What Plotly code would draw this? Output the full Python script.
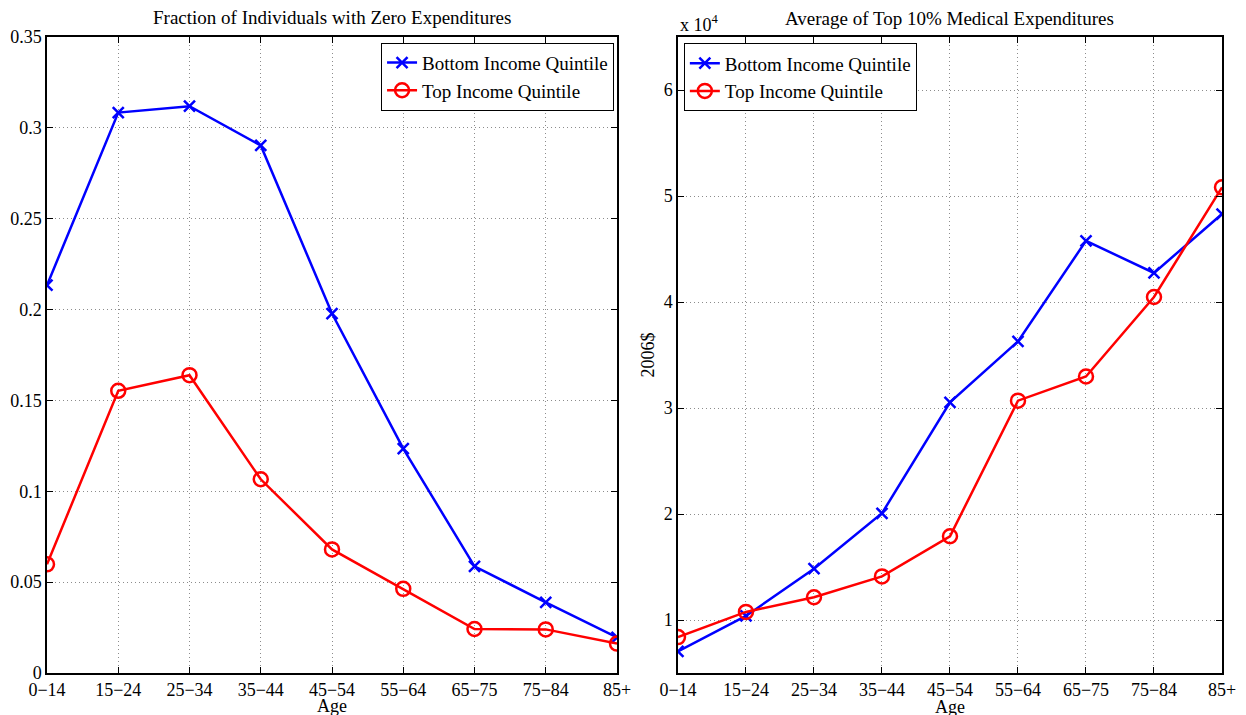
import plotly.graph_objects as go

# age groups on the horizontal axis
ages = ["0−14", "15−24", "25−34", "35−44", "45−54", "55−64", "65−75", "75−84", "85+"]

# left panel: fraction of individuals with zero medical expenditures
zero_bottom = [0.2134, 0.3084, 0.3119, 0.2903, 0.1978, 0.1235, 0.0587, 0.0389, 0.0196]
zero_top = [0.0598, 0.1553, 0.1639, 0.1066, 0.0680, 0.0463, 0.0242, 0.0240, 0.0162]

# right panel: average of top 10% medical expenditures, 2006 dollars
top10_bottom = [7030, 10380, 14840, 20070, 30540, 36280, 45770, 42740, 48300]
top10_top = [8390, 10760, 12150, 14110, 17900, 30690, 32970, 40470, 50820]

y2_ticks = [10000, 20000, 30000, 40000, 50000, 60000]
y2_labels = ["1", "2", "3", "4", "5", "6"]

FONT = "Liberation Serif, Times New Roman, serif"
BLUE = "#0000FF"
RED = "#FF0000"


def bottom_trace(y, xaxis, yaxis, legend):
    return go.Scatter(
        x=ages, y=y, name="Bottom Income Quintile", mode="lines+markers",
        xaxis=xaxis, yaxis=yaxis, legend=legend,
        line=dict(color=BLUE, width=2.5),
        marker=dict(symbol="x-thin", size=11, line=dict(color=BLUE, width=2.5)),
    )


def top_trace(y, xaxis, yaxis, legend):
    return go.Scatter(
        x=ages, y=y, name="Top Income Quintile", mode="lines+markers",
        xaxis=xaxis, yaxis=yaxis, legend=legend,
        line=dict(color=RED, width=2.5),
        marker=dict(symbol="circle-open", size=14, color=RED, line=dict(color=RED, width=2.5)),
    )


fig = go.Figure([
    bottom_trace(zero_bottom, "x", "y", "legend"),
    top_trace(zero_top, "x", "y", "legend"),
    bottom_trace(top10_bottom, "x2", "y2", "legend2"),
    top_trace(top10_top, "x2", "y2", "legend2"),
])

axis_style = dict(
    showline=True, linecolor="black", linewidth=1.5, mirror="ticks",
    ticks="inside", ticklen=6, tickcolor="black", automargin=False,
    showgrid=True, gridcolor="#8c8c8c", griddash="1px,3px", gridwidth=1,
    zeroline=False, tickfont=dict(family=FONT, size=18, color="black"),
)
legend_style = dict(
    yanchor="top", bordercolor="black", borderwidth=1, bgcolor="white",
    font=dict(family=FONT, size=19), tracegroupgap=0, itemwidth=30,
)


def label(text, x, y, yshift, size=19, **kw):
    return dict(text=text, x=x, y=y, xref="paper", yref="paper", yshift=yshift,
                showarrow=False, font=dict(family=FONT, size=size), **kw)


# the page body adds an 8px offset, so the margins are shifted to compensate
fig.update_layout(
    width=1246, height=715,
    margin=dict(l=39, r=32, t=29, b=50),
    paper_bgcolor="white", plot_bgcolor="white",
    font=dict(family=FONT, color="black"),
    xaxis=dict(domain=[0, 0.4851], type="category", range=[0, 8], **axis_style),
    yaxis=dict(range=[0, 0.35], dtick=0.05, anchor="x", **axis_style),
    xaxis2=dict(domain=[0.537, 1], type="category", range=[0, 8], anchor="y2", **axis_style),
    yaxis2=dict(range=[5000, 65000], tickvals=y2_ticks, ticktext=y2_labels, anchor="x2",
                title=dict(text="2006$", font=dict(size=18), standoff=4), **axis_style),
    legend=dict(x=0.4826, y=0.991, xanchor="right", **legend_style),
    legend2=dict(x=0.542, y=0.99, xanchor="left", **legend_style),
    annotations=[
        label("Fraction of Individuals with Zero Expenditures", 0.2425, 1.0, 20,
              xanchor="center", yanchor="middle"),
        label("Average of Top 10% Medical Expenditures", 0.7685, 1.0, 19,
              xanchor="center", yanchor="middle"),
        label("x 10<sup>4</sup>", 0.537, 1.0, 0, size=18, xanchor="left", yanchor="bottom"),
        label("Age", 0.2425, 0.0, -33, size=18, xanchor="center", yanchor="middle"),
        label("Age", 0.7685, 0.0, -34, size=18, xanchor="center", yanchor="middle"),
    ],
)

fig.write_html("out.html")
